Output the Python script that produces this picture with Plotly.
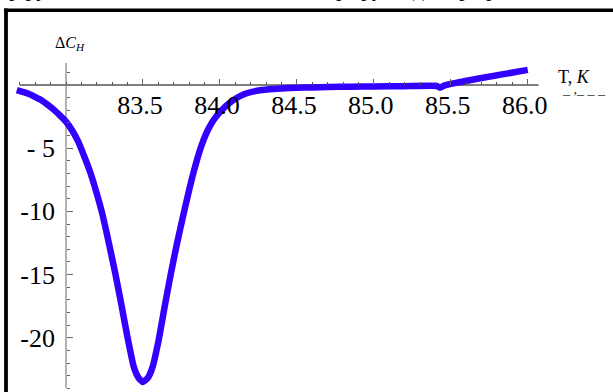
import plotly.graph_objects as go

# ---- data ----
T = [82.68, 82.72, 82.76, 82.80, 82.84, 82.88, 82.92, 82.96, 83.00, 83.04,
     83.08, 83.12, 83.16, 83.20, 83.24, 83.28, 83.32, 83.36, 83.40, 83.44,
     83.47, 83.50, 83.53, 83.56, 83.60, 83.64, 83.68, 83.72, 83.76, 83.80,
     83.84, 83.88, 83.92, 83.96, 84.00, 84.04, 84.08, 84.12, 84.16, 84.20,
     84.26, 84.32, 84.40, 84.50, 84.60, 84.70, 84.85, 85.00, 85.20, 85.41,
     85.43, 85.46, 85.70, 86.00]
dC = [-0.40, -0.55, -0.72, -0.95, -1.20, -1.55, -1.95, -2.40, -2.90, -3.60,
      -4.50, -5.70, -7.00, -8.60, -10.40, -12.60, -14.90, -17.40, -20.00, -22.30,
      -23.15, -23.50, -23.20, -22.40, -20.30, -17.60, -15.00, -12.60, -10.40, -8.30,
      -6.40, -4.80, -3.60, -2.75, -2.15, -1.65, -1.25, -0.95, -0.72, -0.56,
      -0.42, -0.33, -0.27, -0.22, -0.19, -0.16, -0.13, -0.11, -0.09, -0.08,
      -0.22, -0.03, 0.55, 1.20]

x_tickvals = [83.5, 84.0, 84.5, 85.0, 85.5, 86.0]
x_ticktext = ["83.5", "84.0", "84.5", "85.0", "85.5", "86.0"]
x_minor = [round(82.7 + 0.1 * i, 1) for i in range(34)]
y_tickvals = [-20, -15, -10, -5]
y_ticktext = ["-20", "-15", "-10", "- 5"]
y_minor = [v for v in range(-24, 2) if v % 5 != 0]

W, H = 613, 392
X0, X1 = 82.571, 86.554
Y0, Y1 = -24.29, 6.725

def px(xv):
    return (xv - X0) / (X1 - X0)

def py(yv):
    return (yv - Y0) / (Y1 - Y0)

fig = go.Figure()
fig.add_trace(go.Scatter(
    x=T, y=dC, mode="lines",
    line=dict(color="#3300ff", width=6.5, shape="spline", smoothing=0.4),
    hoverinfo="skip", showlegend=False,
))

font = "Liberation Serif, Times New Roman, serif"

fig.update_layout(
    width=W, height=H,
    margin=dict(l=0, r=0, t=0, b=0),
    paper_bgcolor="white", plot_bgcolor="white",
    font=dict(family=font, color="black"),
    xaxis=dict(
        range=[X0, X1], domain=[0, 1], anchor="free", position=py(0),
        showgrid=False, zeroline=False, showline=False,
        tickmode="array", tickvals=x_tickvals, ticktext=x_ticktext,
        ticks="inside", ticklen=6, tickwidth=1, tickcolor="#666",
        tickfont=dict(size=26, family=font), ticklabelstandoff=2,
        ticklabelshift=-3,
        minor=dict(tickmode="array", tickvals=x_minor, ticks="inside",
                   ticklen=3, tickwidth=1, tickcolor="#555", showgrid=False),
    ),
    yaxis=dict(
        range=[Y0, Y1], domain=[0, 1], anchor="free", position=px(83.0),
        showgrid=False, zeroline=False, showline=False,
        tickmode="array", tickvals=y_tickvals, ticktext=y_ticktext,
        ticks="inside", ticklen=6, tickwidth=1, tickcolor="#666",
        tickfont=dict(size=26, family=font), ticklabelstandoff=11,
        minor=dict(tickmode="array", tickvals=y_minor, ticks="inside",
                   ticklen=3, tickwidth=1, tickcolor="#666", showgrid=False),
    ),
)

# axes lines
fig.add_shape(type="line", xref="x", yref="y", x0=82.70, x1=86.07, y0=0, y1=0,
              line=dict(color="black", width=1.2), layer="below")
fig.add_shape(type="line", xref="x", yref="y", x0=83.0, x1=83.0, y0=1.74, y1=-24.0,
              line=dict(color="#808080", width=1.2), layer="below")

# page frame (top and left borders)
fig.add_shape(type="line", xref="paper", yref="paper",
              x0=4 / W, x1=1, y0=1 - 10.3 / H, y1=1 - 10.3 / H,
              line=dict(color="black", width=3.6))
fig.add_shape(type="line", xref="paper", yref="paper",
              x0=6 / W, x1=6 / W, y0=1 - 8.5 / H, y1=0,
              line=dict(color="black", width=3.8))

# axis labels
fig.add_annotation(xref="paper", yref="paper", x=53 / W, y=1 - 43 / H,
                   xanchor="left", yanchor="middle", showarrow=False,
                   text="\u0394<i>C</i><sub><i>H</i></sub>",
                   font=dict(size=16, family=font, color="black"))
fig.add_annotation(xref="paper", yref="paper", x=556 / W, y=1 - 77 / H,
                   xanchor="left", yanchor="middle", showarrow=False,
                   text="T, <i>K</i>",
                   font=dict(size=18, family=font, color="black"))
fig.add_annotation(xref="paper", yref="paper", x=560 / W, y=1 - 89 / H,
                   xanchor="left", yanchor="middle", showarrow=False,
                   text="_ ,_ _ _",
                   font=dict(size=14, family=font, color="#333"))

# cut-off text fragments at the very top of the page
for xf, s in [(8, "р ру"), (130, "пп"), (335, "р"), (360, "ру"), (412, "д"), (458, "р"), (485, "р")]:
    fig.add_annotation(xref="paper", yref="paper", x=xf / W, y=1, yshift=-2,
                       xanchor="left", yanchor="bottom", showarrow=False,
                       text=s, borderpad=0,
                       font=dict(size=22, family=font, color="black"))

fig.write_html("out.html")
